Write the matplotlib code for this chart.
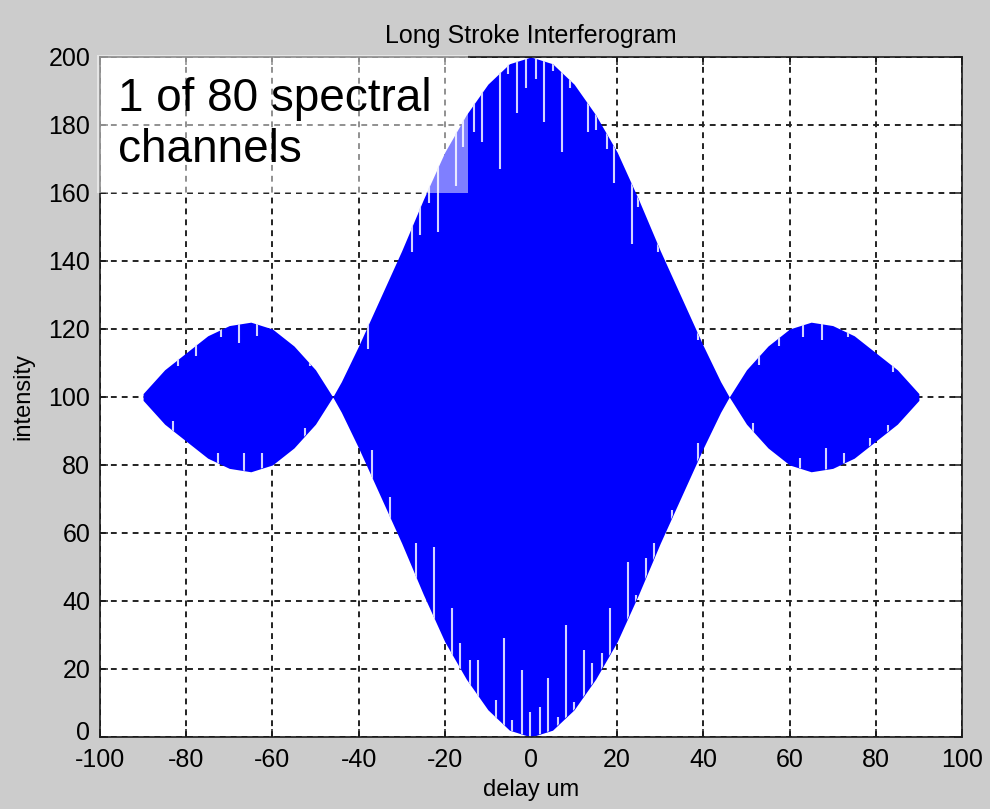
import numpy as np
import matplotlib
matplotlib.use("Agg")
import matplotlib.pyplot as plt
import matplotlib.transforms as mtransforms
from matplotlib.patches import Rectangle

plt.rcParams['font.family'] = ['Liberation Sans', 'DejaVu Sans']
plt.rcParams['axes.unicode_minus'] = False

# fringe envelope of the interferogram (upper / lower edge of the fringes)
delay = [-90, -85, -80, -75, -70, -65, -60, -55, -50, -48, -46, -44, -40, -35, -30,
         -25, -20, -15, -10, -5, 0, 5, 10, 15, 20, 25, 30, 35, 40, 44, 46, 48,
         50, 55, 60, 65, 70, 75, 80, 85, 90]
env_upper = [101, 108, 113, 118, 121, 122, 120, 115, 108, 104, 100, 104.5, 115, 129, 143,
             158, 172, 183, 192, 198, 200, 198, 192, 183, 172, 158, 143, 129, 115, 104.5, 100, 104,
             108, 115, 120, 122, 121, 118, 113, 108, 101]
env_lower = [99, 92, 87, 82, 79, 78, 80, 85, 92, 96, 100, 95.5, 85, 71, 57,
             42, 28, 17, 8, 2, 0, 2, 8, 17, 28, 42, 57, 71, 85, 95.5, 100, 96,
             92, 85, 80, 78, 79, 82, 87, 92, 99]

# fringe troughs that show through as light streaks
upper_gap_delay = [-81.9, -77.7, -72.0, -67.7, -63.6, -51.3, -37.8, -27.6, -25.8, -23.7,
                   -21.6, -17.4, -15.8, -13.2, -11.4, -7.2, -5.3, -3.2, -1.2, 1.2,
                   3.0, 5.1, 7.2, 9.0, 13.2, 15.1, 17.6, 19.3, 23.4, 24.8,
                   29.5, 38.7, 52.9, 57.5, 63.1, 67.5, 73.5, 84.0]
upper_gap_end = [109, 112, 117.6, 116, 118, 109, 114, 142.6, 147.6, 157,
                 148.5, 162, 173.5, 178, 175, 167, 195, 183.5, 191, 193.5,
                 181, 196, 172, 191, 178, 178.5, 173, 163, 145, 156,
                 142.6, 116.8, 109.4, 115, 117.6, 116.8, 117.6, 107.4]
lower_gap_delay = [-83.0, -72.6, -66.6, -62.4, -52.4, -36.9, -32.7, -26.7, -22.5, -18.3,
                   -16.5, -14.2, -12.3, -8.1, -6.3, -4.4, -2.1, -0.2, 2.1, 3.9,
                   6.3, 8.1, 10.0, 12.3, 14.2, 16.5, 18.3, 22.5, 24.4, 26.7,
                   28.5, 32.7, 38.7, 51.5, 62.4, 68.4, 72.6, 78.7, 82.8]
lower_gap_top = [93, 83.5, 83.5, 83.5, 91, 84.4, 70.6, 57, 56, 38,
                 27.6, 22.6, 22.6, 11, 29, 5, 19.7, 7.4, 8.8, 17.4,
                 6, 33, 10.4, 25.6, 21.7, 24.6, 38, 51.5, 41.8, 52.6,
                 57, 66.8, 86.5, 92.4, 82, 85, 83.5, 88, 91.8]

xticks = list(range(-100, 101, 20))
yticks = list(range(0, 201, 20))

fig = plt.figure(figsize=(9.9, 8.09), dpi=100, facecolor='#cccccc')
ax = fig.add_axes([0.101, 0.089, 0.8707, 0.8406])
ax.set_facecolor('white')

fill = ax.fill_between(delay, env_lower, env_upper, color='#0000ff', lw=0, zorder=1)

# light streaks, clipped to the blue envelope
streak_kw = dict(colors='#d4d4ff', linewidth=1.5, zorder=1.2)
up = ax.vlines(upper_gap_delay, upper_gap_end, 200, **streak_kw)
lo = ax.vlines(lower_gap_delay, 0, lower_gap_top, **streak_kw)
for lc in (up, lo):
    lc.set_clip_path(fill.get_paths()[0], ax.transData)

ax.set_xlim(-100, 100)
ax.set_ylim(0, 200)
ax.set_xticks(xticks)
ax.set_yticks(yticks)
ax.set_axisbelow(True)
ax.grid(True, color='#222222', linestyle=(0, (3, 2.6)), linewidth=1.4)
ax.tick_params(direction='in', top=True, right=True, length=6, width=1.1,
               labelsize=18, color='#1a1a1a')
ax.tick_params(axis='x', pad=8)
ax.tick_params(axis='y', pad=7)
for s in ax.spines.values():
    s.set_linewidth(1.2)
    s.set_color('#1a1a1a')

# lift the bottom "0" a little so it clears the "-100" below it
zero_lbl = ax.yaxis.get_major_ticks()[0].label1
zero_lbl.set_transform(zero_lbl.get_transform() +
                       mtransforms.ScaledTranslation(0, 5 / 72, fig.dpi_scale_trans))

ax.set_title('Long Stroke Interferogram', fontsize=18, pad=10)
ax.set_xlabel('delay um', fontsize=17, labelpad=5)
ax.set_ylabel('intensity', fontsize=17, labelpad=10)

# semi-transparent label box in the top-left corner
box = Rectangle((-0.003, 0.8), 0.43, 0.203, transform=ax.transAxes,
                facecolor='white', edgecolor='none', alpha=0.5,
                clip_on=False, zorder=3)
ax.add_patch(box)
ax.text(-95.8, 194, '1 of 80 spectral\nchannels', fontsize=33, va='top',
        ha='left', linespacing=1.2, zorder=4)

fig.savefig('out.png', dpi=100, facecolor=fig.get_facecolor())
